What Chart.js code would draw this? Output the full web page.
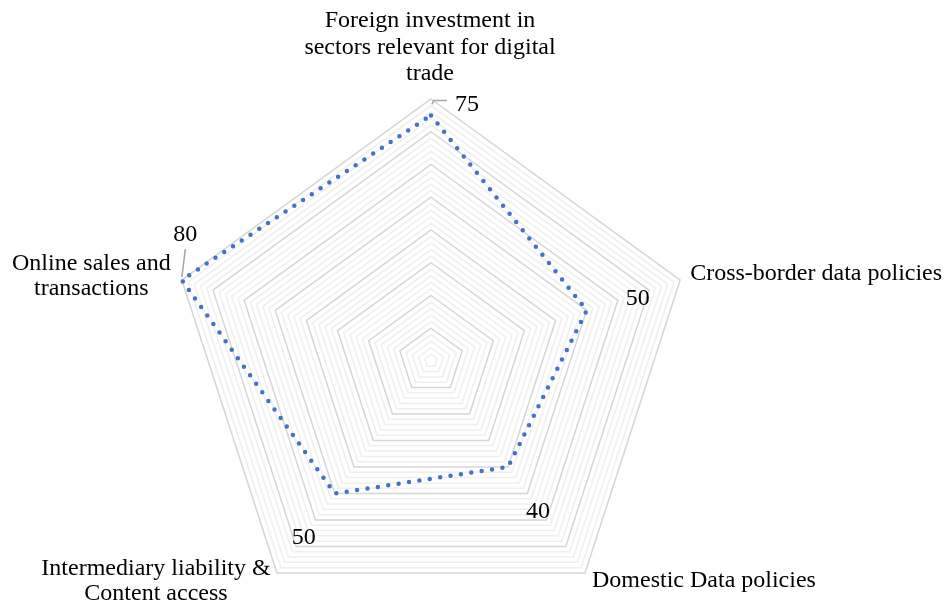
<!DOCTYPE html>
<html>
<head>
<meta charset="utf-8">
<script src="https://cdn.jsdelivr.net/npm/chart.js@4.4.1/dist/chart.umd.min.js"></script>
<style>
    html, body { margin: 0; padding: 0; background: #fff; overflow: hidden; }
    #chartRadar { position: absolute; left: 0; top: 0; }
</style>
</head>
<body>
<canvas id="chartRadar" width="948" height="700"></canvas>
<script>
// DONNÉES
const categories = [
    ['Foreign investment in', 'sectors relevant for digital', 'trade'],
    ['Cross-border data policies'],
    ['Domestic Data policies'],
    ['Intermediary liability &', 'Content access'],
    ['Online sales and', 'transactions']
];
const scores = [75, 50, 40, 50, 80];
const scaleMax = 80;
const minorStep = 2;
const majorStep = 10;

const FONT = '24px "Liberation Serif", "Times New Roman", serif';

// position des libellés d'axes, relative au sommet externe
const axisLabelPos = [
    { dx: -1, dy: -72, align: 'center', lh: 26.5 },
    { dx: 10, dy: 0, align: 'left', lh: 25 },
    { dx: 7, dy: 14, align: 'left', lh: 25 },
    { dx: -121, dy: 2, align: 'center', lh: 25 },
    { dx: -90.5, dy: -10, align: 'center', lh: 25 }
];
// position des étiquettes de valeurs, relative au point
const valueLabelPos = [
    { dx: 36, dy: -4, leader: [[1, -11], [2.6, -15], [16, -15]] },
    { dx: 51, dy: -5 },
    { dx: 30, dy: 51 },
    { dx: -31, dy: 50.5 },
    { dx: 3.5, dy: -39, leader: [[0, -3], [3.5, -31]] }
];

const labelsPlugin = {
    id: 'labelsPlugin',
    afterDraw(chart) {
        const ctx = chart.ctx;
        const scale = chart.scales.r;
        ctx.save();
        ctx.font = FONT;
        ctx.fillStyle = '#000';
        ctx.textBaseline = 'alphabetic';

        // libellés des axes
        categories.forEach((lines, i) => {
            const p = scale.getPointPosition(i, scale.drawingArea);
            const pos = axisLabelPos[i];
            ctx.textAlign = pos.align;
            lines.forEach((txt, k) => {
                ctx.fillText(txt, p.x + pos.dx, p.y + pos.dy + k * pos.lh);
            });
        });

        // étiquettes de valeurs + lignes de rappel
        const meta = chart.getDatasetMeta(0);
        meta.data.forEach((pt, i) => {
            const pos = valueLabelPos[i];
            if (pos.leader) {
                ctx.strokeStyle = '#a6a6a6';
                ctx.lineWidth = 1.5;
                ctx.beginPath();
                pos.leader.forEach((o, k) => {
                    if (k === 0) ctx.moveTo(pt.x + o[0], pt.y + o[1]);
                    else ctx.lineTo(pt.x + o[0], pt.y + o[1]);
                });
                ctx.stroke();
            }
            ctx.textAlign = 'center';
            ctx.fillText(String(scores[i]), pt.x + pos.dx, pt.y + pos.dy);
        });
        ctx.restore();
    }
};

const ctx1 = document.getElementById('chartRadar').getContext('2d');
new Chart(ctx1, {
    type: 'radar',
    data: {
        labels: categories,
        datasets: [{
            data: scores,
            borderColor: '#4472C4',
            backgroundColor: 'rgba(0,0,0,0)',
            borderWidth: 4.5,
            borderDash: [0, 10.5],
            borderCapStyle: 'round',
            fill: false,
            pointRadius: 0,
            pointHoverRadius: 0
        }]
    },
    options: {
        responsive: false,
        animation: false,
        layout: { padding: { left: 169, top: 99, right: 255, bottom: 77 } },
        plugins: { legend: { display: false }, tooltip: { enabled: false } },
        scales: {
            r: {
                min: 0,
                max: scaleMax,
                angleLines: { display: false },
                pointLabels: { display: false },
                ticks: { display: false, stepSize: minorStep },
                grid: {
                    color: c => (c.tick && c.tick.value % majorStep === 0) ? '#d6d6d6' : '#efefef',
                    lineWidth: 1.5
                }
            }
        }
    },
    plugins: [labelsPlugin]
});
</script>
</body>
</html>
